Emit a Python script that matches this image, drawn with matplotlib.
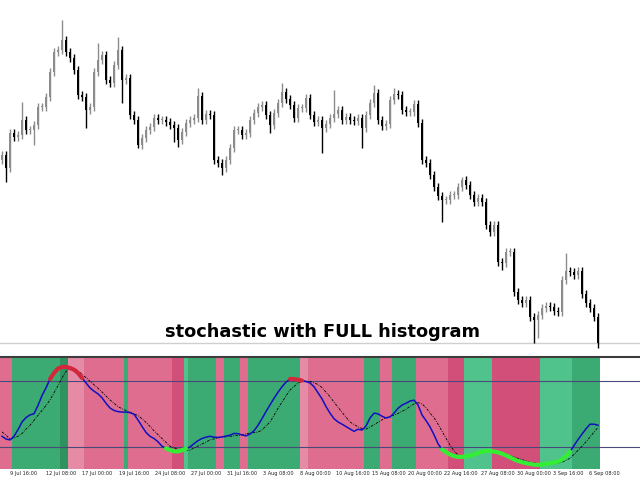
import numpy as np
import matplotlib
matplotlib.use("Agg")
import matplotlib.pyplot as plt

# ---------------- price data (arbitrary price units, higher = higher price) ----------------
first_open = 190
closes = [195,182,217,213,215,230,220,220,225,243,243,253,278,298,300,310,298,292,280,255,
          253,240,243,278,290,295,270,267,285,300,270,272,235,230,205,212,220,223,232,230,
          230,228,225,222,210,218,227,230,232,254,230,236,235,190,187,182,190,202,220,220,
          215,217,230,237,243,245,235,225,237,247,258,251,245,232,242,242,252,235,228,230,
          222,226,232,236,240,230,233,230,229,232,222,235,247,257,230,224,226,250,256,255,
          240,238,238,246,227,190,187,175,163,154,150,150,155,155,163,170,165,155,148,152,
          148,125,118,125,88,87,98,98,58,50,47,50,33,30,35,42,44,43,39,38,
          70,79,78,75,79,56,47,42,33,7]
highs = [199,199,221,221,219,248,234,224,229,247,247,257,282,302,304,330,314,302,296,284,
         259,257,247,282,307,299,299,274,289,313,304,276,276,239,234,216,224,227,236,236,
         234,234,232,229,226,222,231,234,236,262,258,240,240,239,194,191,194,206,224,224,
         224,221,234,241,247,249,249,239,241,251,267,262,255,249,246,246,256,256,239,234,
         234,230,236,260,244,244,237,237,234,236,236,239,251,265,261,234,230,254,262,260,
         259,244,242,250,250,231,194,191,179,167,158,154,159,159,167,173,174,169,159,156,
         156,152,129,129,129,92,102,102,102,62,54,54,54,37,39,46,48,48,47,43,
         74,97,83,82,83,83,60,51,46,37]
lows = [186,168,178,209,209,211,216,216,205,221,239,239,249,274,294,296,294,288,276,251,
        249,222,236,239,274,286,266,263,263,281,247,266,231,226,202,201,208,216,219,226,
        226,224,221,208,203,206,214,223,226,228,226,226,231,186,183,175,178,186,198,216,
        211,211,213,226,233,239,231,217,221,233,243,247,241,228,228,238,238,231,224,224,
        197,218,222,228,232,226,226,226,225,225,202,218,231,243,226,220,220,222,246,251,
        236,234,234,234,223,186,183,171,159,150,128,146,146,151,151,159,161,151,144,144,
        144,121,114,114,84,80,83,94,54,46,43,43,29,7,12,31,38,39,35,34,
        34,66,74,71,71,52,43,38,29,2]

# ---------------- stochastic data ----------------
stoch_main = [30,27.5,26.7,30,36,43,47,49.4,50.5,58,67,74,82,87.5,91.5,93,93,92,90.5,87.5,
              83,78.5,74,71,68.5,65,60,55.7,53.5,52.4,52,52,51.5,50,44.8,39,33.5,30,28,25,
              21,19,17.5,16.3,16.3,17.3,18.8,20.3,23.3,26,28,29.2,30,29.2,29,29.4,30.2,31,32.6,32.4,
              31.2,30.4,32,35,40,46,52.5,58.5,64.5,70,75,79.2,82,82,81.4,80.6,79.7,78.5,75,69.5,
              64,57,51,46,43,41,38.8,36.6,34.5,36.4,35.7,39.3,46.6,51,50.4,48.2,46.6,47.6,51,55.4,
              58.3,60,62,62.8,58.5,49.4,44.3,38.6,31.4,23.3,18,15.6,13.5,12,11.3,11.3,11.9,12.5,13.4,14.8,
              16,16.6,16.6,16.1,15.4,14.2,12.6,11,9,7.6,6.5,5.6,5,4.2,4,4.4,5.1,5.7,6,7,
              9,12,16,21.6,27,32,36.8,41,41,40]
stoch_signal = [34,31,27.5,28.5,30,32.5,36.5,40,44.5,49,53.5,58,63,69.5,76,83,88.8,92,91.6,89.4,
                86.4,83.2,80,76.8,73.6,70.2,66.6,63,60,57,55,53.5,52,50.4,48.8,46,42.6,39,35,31.5,
                28,24.4,21,19.6,18.2,17.5,17.5,17.5,19.3,21,23,24.8,26.7,27.6,28.5,29.2,29.6,30,30.4,30.8,
                31.4,32.2,33,33.4,33.8,35.8,39.4,43,49,55.4,61,66.6,72,75.2,78.4,80,80,80,78.5,77,
                74.2,70,66,61,56.4,51.8,47.4,43,40.8,38.6,37,36.5,38.5,40.5,42.7,45,46.8,48,49.2,50.8,
                52.6,54.6,57,59.4,60.6,59.4,56,51,47,41,34.6,28.4,22,16.7,13,11.5,11.5,11.5,12.8,14.3,
                15.2,15.6,16,15.8,15.6,15,13.7,12.5,11.2,10,8.8,7.6,6.4,5.8,5.2,5,5,5,5.3,5.6,
                6.5,8.3,10,13.6,17.2,21,25,29.4,33.8,38]
# histogram segments: (start bar, end bar, state)
hist_start = [0, 3, 15, 17, 21, 31, 32, 43, 46, 47, 54, 56, 60, 62, 75, 77, 91, 95, 98, 104, 112, 116, 123, 135, 143]
hist_end   = [3, 15, 17, 21, 31, 32, 43, 46, 47, 54, 56, 60, 62, 75, 77, 91, 95, 98, 104, 112, 116, 123, 135, 143, 150]
hist_state = ['pink', 'green', 'dgreen', 'lpink', 'pink', 'green', 'pink', 'dpink', 'lgreen', 'green',
              'pink', 'green', 'pink', 'green', 'lpink', 'pink', 'green', 'pink', 'green', 'pink',
              'dpink', 'lgreen', 'dpink', 'lgreen', 'green']
upper_level = 80
lower_level = 20

date_labels = ["9 Jul 16:00", "12 Jul 08:00", "17 Jul 00:00", "19 Jul 16:00", "24 Jul 08:00",
               "27 Jul 00:00", "31 Jul 16:00", "3 Aug 08:00", "8 Aug 00:00", "10 Aug 16:00",
               "15 Aug 08:00", "20 Aug 00:00", "22 Aug 16:00", "27 Aug 08:00", "30 Aug 00:00",
               "3 Sep 16:00", "6 Sep 08:00"]

title_text = "stochastic with FULL histogram"

# ---------------- styling ----------------
state_colors = {'pink': '#de6d90', 'dpink': '#d24f79', 'lpink': '#e68ba6',
                'green': '#3caa73', 'dgreen': '#2e935f', 'lgreen': '#50c38c'}

n = len(closes)
idx = np.arange(n)
opens = [first_open] + closes[:-1]

fig = plt.figure(figsize=(6.4, 4.8), dpi=100)
W, H = 640, 480

# ---------------- price panel ----------------
ax1 = fig.add_axes([0, 1 - 350 / H, 1, 350 / H])
ax1.set_xlim(-0.5, W / 4 - 0.5)
ax1.set_ylim(0, 350)
ax1.axis('off')

up = [c >= o for o, c in zip(opens, closes)]
wick_cols = ['#8c8c8c' if u else '#000000' for u in up]
ax1.vlines(idx, lows, highs, colors=wick_cols, linewidth=1.0)
body_bottom = [min(o, c) for o, c in zip(opens, closes)]
body_h = [max(abs(c - o), 1.0) for o, c in zip(opens, closes)]
ax1.bar(idx, body_h, bottom=body_bottom, width=0.55, color=wick_cols, linewidth=0)
ax1.axhline(7, color='#cfcfcf', linewidth=1.0, zorder=0)

fig.text(322.5 / W, 1 - 337 / H, title_text, ha='center', va='baseline',
         fontsize=12.8, fontweight='bold', color='black', family='DejaVu Sans')

# ---------------- stochastic panel ----------------
ax2 = fig.add_axes([0, 11 / H, 1, 112 / H])
ax2.set_xlim(-0.5, W / 4 - 0.5)
y_lo, y_hi = 0.3, 102
ax2.set_ylim(y_lo, y_hi)

bar_colors = [None] * n
for s, e, st in zip(hist_start, hist_end, hist_state):
    for k in range(s, e):
        bar_colors[k] = state_colors[st]
ax2.bar(idx, y_hi - y_lo, bottom=y_lo, width=1.0, color=bar_colors, linewidth=0, zorder=1)

ax2.axhline(upper_level, color='#4a4a7a', linewidth=0.8, zorder=2)
ax2.axhline(lower_level, color='#4a4a7a', linewidth=0.8, zorder=2)

main = np.array(stoch_main, dtype=float)
sig = np.array(stoch_signal, dtype=float)
ax2.plot(idx, sig, color='black', linewidth=0.6, linestyle=(0, (3, 1.5, 1, 1.5)), zorder=3)
ax2.plot(idx, main, color='#1010c0', linewidth=1.1, zorder=4)

# over-bought / over-sold highlight
hi_mask = np.ma.masked_where(main < upper_level, main)
lo_mask = np.ma.masked_where(main > lower_level, main)
ax2.plot(idx, hi_mask, color='#d2283c', linewidth=3.0, solid_capstyle='round', zorder=5)
ax2.plot(idx, lo_mask, color='#33ee33', linewidth=3.0, solid_capstyle='round', zorder=5)

for sp in ['left', 'right', 'bottom']:
    ax2.spines[sp].set_visible(False)
ax2.spines['top'].set_color('#3c3c3c')
ax2.spines['top'].set_linewidth(1.5)
ax2.set_yticks([])

tick_pos = [2.0 + 9.05 * k for k in range(len(date_labels))]
ax2.set_xticks(tick_pos)
ax2.set_xticklabels(date_labels, fontsize=3.6, ha='left', family='DejaVu Sans', color='#202020')
ax2.tick_params(axis='x', length=0, pad=1.5)

fig.savefig('out.png', dpi=100)
